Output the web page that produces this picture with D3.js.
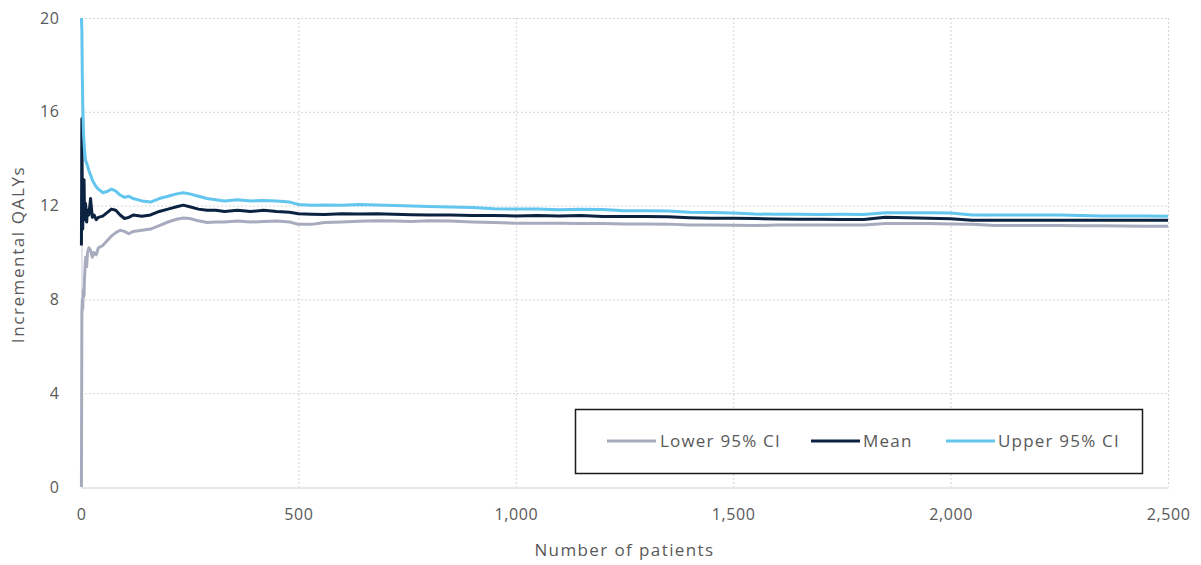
<!DOCTYPE html>
<html>
<head>
<meta charset="utf-8">
<script src="https://cdn.jsdelivr.net/npm/d3@7/dist/d3.min.js"></script>
<style>
  html, body { margin: 0; padding: 0; background: #fff; }
  svg { display: block; font-family: "Open Sans", "Noto Sans", sans-serif; }
</style>
</head>
<body>
<svg id="chart" width="1201" height="565"></svg>
<script>
// Cumulative number of patients at which the running estimates are recorded
const patients = [1,2,3,4,5,6,7,8,9,10,11,13,15,18,22,26,30,35,40,
  50,60,70,80,90,100,110,120,
  140,160,180,200,220,235,250,270,290,310,330,360,390,420,450,480,500,
  530,560,600,640,680,720,760,800,
  850,900,950,1000,1050,1100,1150,1200,1250,1300,1350,1400,1450,1500,1550,1600,1650,1700,
  1750,1800,1850,1900,1950,2000,2050,2100,2150,2200,2250,2300,2350,2400,2450,2500];

const lowerCI = [0,7.4,8.0,7.6,8.4,8.1,8.2,8.9,9.2,9.6,9.8,9.4,10.0,10.2,10.1,9.8,10.0,9.9,10.2,
  10.3,10.5,10.7,10.85,10.95,10.9,10.8,10.9,
  10.95,11.0,11.15,11.3,11.42,11.47,11.45,11.35,11.28,11.3,11.3,11.34,11.3,11.32,11.34,11.3,11.2,
  11.2,11.28,11.3,11.33,11.35,11.34,11.32,11.35,
  11.34,11.30,11.28,11.25,11.25,11.25,11.24,11.24,11.22,11.22,11.21,11.17,11.17,11.16,11.15,11.17,11.17,11.17,
  11.17,11.17,11.24,11.24,11.24,11.22,11.20,11.15,11.15,11.15,11.15,11.14,11.14,11.13,11.12,11.12];

const meanQALY = [10.3,15.7,12.4,11.0,12.5,11.6,13.1,11.8,11.4,12.1,12.0,11.3,11.8,11.6,12.3,11.5,11.6,11.4,11.5,
  11.55,11.7,11.85,11.8,11.6,11.45,11.5,11.6,
  11.55,11.6,11.75,11.85,11.95,12.02,11.95,11.85,11.8,11.8,11.75,11.8,11.75,11.8,11.75,11.72,11.65,
  11.63,11.62,11.65,11.64,11.65,11.63,11.61,11.6,
  11.60,11.58,11.58,11.56,11.58,11.56,11.58,11.54,11.53,11.53,11.52,11.48,11.46,11.46,11.45,11.43,11.42,11.42,
  11.41,11.41,11.50,11.48,11.46,11.44,11.38,11.38,11.37,11.37,11.37,11.38,11.38,11.38,11.38,11.37];

const upperCI = [20,19.5,17.6,16.3,15.6,15.0,14.7,14.4,14.2,14.0,13.9,13.8,13.7,13.5,13.3,13.1,12.95,12.8,12.7,
  12.55,12.6,12.7,12.62,12.45,12.35,12.4,12.3,
  12.2,12.15,12.3,12.4,12.5,12.55,12.5,12.4,12.3,12.25,12.2,12.25,12.2,12.22,12.2,12.15,12.05,
  12.02,12.03,12.02,12.05,12.03,12.0,11.98,11.96,
  11.94,11.92,11.87,11.85,11.86,11.82,11.84,11.83,11.78,11.78,11.77,11.72,11.71,11.68,11.64,11.63,11.63,11.62,
  11.63,11.62,11.70,11.70,11.70,11.68,11.60,11.60,11.60,11.60,11.60,11.58,11.56,11.56,11.56,11.55];

const xTicks = [0, 500, 1000, 1500, 2000, 2500];
const yTicks = [0, 4, 8, 12, 16, 20];

const seriesNames = ["Lower 95% CI", "Mean", "Upper 95% CI"];
const seriesColors = ["#a7abbd", "#0b2340", "#62c6ee"];
const seriesValues = [lowerCI, meanQALY, upperCI];

const svg = d3.select("#chart");
const plot = { left: 81, right: 1168, top: 18, bottom: 487 };

const x = d3.scaleLinear().domain([0, 2500]).range([plot.left, plot.right]);
const y = d3.scaleLinear().domain([0, 20]).range([plot.bottom, plot.top]);

const textColor = "#595959";
const gridColor = "#d4d4d4";

// Gridlines
const grid = svg.append("g");
grid.selectAll("line.v").data(xTicks.slice(1)).join("line")
  .attr("x1", d => x(d) + 0.5).attr("x2", d => x(d) + 0.5)
  .attr("y1", plot.top).attr("y2", plot.bottom)
  .attr("stroke", gridColor).attr("stroke-width", 1).attr("stroke-dasharray", "2,2");
grid.selectAll("line.h").data(yTicks.slice(1)).join("line")
  .attr("x1", plot.left).attr("x2", plot.right)
  .attr("y1", d => y(d) + 0.5).attr("y2", d => y(d) + 0.5)
  .attr("stroke", gridColor).attr("stroke-width", 1).attr("stroke-dasharray", "2,2");

// Axes
const xAxis = svg.append("g")
  .attr("transform", `translate(0,${plot.bottom + 0.5})`)
  .call(d3.axisBottom(x).tickValues(xTicks).tickSize(0).tickPadding(21)
    .tickFormat(d3.format(",")));
xAxis.select(".domain").attr("stroke", "#d0d0d0");
xAxis.selectAll("text").attr("fill", textColor).attr("font-size", 16)
  .attr("letter-spacing", "0.6px")
  .attr("font-family", "'Open Sans', sans-serif");

const yAxis = svg.append("g")
  .attr("transform", `translate(${plot.left + 0.5},0)`)
  .call(d3.axisLeft(y).tickValues(yTicks).tickSize(0).tickPadding(22));
yAxis.select(".domain").attr("stroke", "#c6c9d4");
yAxis.selectAll("text").attr("fill", textColor).attr("font-size", 16)
  .attr("letter-spacing", "0.6px")
  .attr("font-family", "'Open Sans', sans-serif");

// Axis titles
svg.append("text")
  .attr("x", (plot.left + plot.right) / 2).attr("y", 556)
  .attr("text-anchor", "middle").attr("fill", textColor).attr("font-size", 17)
  .attr("letter-spacing", "1.4px")
  .text("Number of patients");
svg.append("text")
  .attr("transform", `translate(24,${(plot.top + plot.bottom) / 2 + 2}) rotate(-90)`)
  .attr("text-anchor", "middle").attr("fill", textColor).attr("font-size", 17)
  .attr("letter-spacing", "1.6px")
  .text("Incremental QALYs");

// Series lines
svg.append("clipPath").attr("id", "plotClip").append("rect")
  .attr("x", plot.left - 2).attr("y", plot.top - 1)
  .attr("width", plot.right - plot.left + 2).attr("height", plot.bottom - plot.top + 1);

const line = d3.line()
  .x((d, i) => x(patients[i]))
  .y(d => y(d));

const lines = svg.append("g").attr("clip-path", "url(#plotClip)");
seriesValues.forEach((vals, k) => {
  lines.append("path")
    .attr("d", line(vals))
    .attr("fill", "none")
    .attr("stroke", seriesColors[k])
    .attr("stroke-width", 3)
    .attr("stroke-linejoin", "round");
});

// Legend
const legend = svg.append("g");
legend.append("rect")
  .attr("x", 575.5).attr("y", 409.5).attr("width", 567).attr("height", 64)
  .attr("fill", "#fff").attr("stroke", "#1a1a1a").attr("stroke-width", 1.5);
const legendItems = [
  { x1: 607, x2: 656, tx: 660 },
  { x1: 811, x2: 860, tx: 863 },
  { x1: 946, x2: 995, tx: 998 }
];
legendItems.forEach((it, k) => {
  legend.append("line")
    .attr("x1", it.x1).attr("x2", it.x2).attr("y1", 441).attr("y2", 441)
    .attr("stroke", seriesColors[k]).attr("stroke-width", 3);
  legend.append("text")
    .attr("x", it.tx).attr("y", 441).attr("dy", "0.35em")
    .attr("fill", textColor).attr("font-size", 17)
    .attr("letter-spacing", "1.2px")
    .text(seriesNames[k]);
});
</script>
</body>
</html>
